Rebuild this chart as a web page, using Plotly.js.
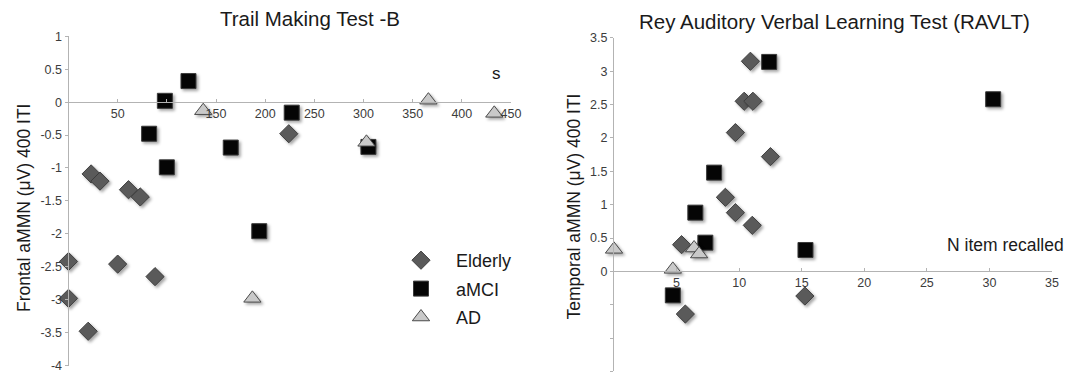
<!DOCTYPE html>
<html><head><meta charset="utf-8">
<script src="https://cdn.plot.ly/plotly-3.0.1.min.js"></script>
<style>
html,body{margin:0;padding:0;background:#fff;}
#chart{width:1075px;height:374px;}
.scatterlayer .trace .points path{filter:drop-shadow(2px 2px 1.5px rgba(0,0,0,0.35));}
</style></head>
<body><div id="chart"></div>
<script>
// ---------- data ----------
const groups = ['Elderly', 'aMCI', 'AD'];

// Trail Making Test -B (x: seconds, y: frontal aMMN µV)
const tmtElderlyX = [23, 32, 61, 73, 0, 50, 88, 0, 20, 224];
const tmtElderlyY = [-1.09, -1.20, -1.33, -1.44, -2.42, -2.46, -2.65, -2.98, -3.48, -0.48];
const tmtAmciX = [122, 98, 82, 165, 100, 227, 305, 194];
const tmtAmciY = [0.32, 0.02, -0.48, -0.69, -0.99, -0.16, -0.68, -1.96];
const tmtAdX = [137, 366, 433, 303, 187];
const tmtAdY = [-0.13, 0.03, -0.17, -0.61, -2.98];

// RAVLT (x: N items recalled, y: temporal aMMN µV)
const ravElderlyX = [10.9, 10.4, 11.1, 9.7, 12.5, 8.9, 9.7, 11.05, 5.4, 5.7, 15.25];
const ravElderlyY = [3.15, 2.55, 2.55, 2.08, 1.72, 1.11, 0.88, 0.69, 0.40, -0.64, -0.37];
const ravAmciX = [12.4, 30.3, 8.0, 6.5, 7.3, 15.3, 4.7];
const ravAmciY = [3.14, 2.58, 1.48, 0.88, 0.43, 0.32, -0.36];
const ravAdX = [0, 4.7, 6.4, 6.8];
const ravAdY = [0.33, 0.03, 0.35, 0.26];

// ticks
const tmtXTicks = [50, 100, 150, 200, 250, 300, 350, 400, 450];
const tmtXTickText = ['50', '', '150', '200', '250', '300', '350', '400', '450'];
const tmtYTicks = [-4, -3.5, -3, -2.5, -2, -1.5, -1, -0.5, 0, 0.5, 1];
const tmtYTickText = ['-4', '-3.5', '-3', '-2.5', '-2', '-1.5', '-1', '-0.5', '0', '0.5', '1'];
const ravXTicks = [5, 10, 15, 20, 25, 30, 35];
const ravXTickText = ['5', '10', '15', '20', '25', '30', '35'];
const ravYTicks = [-1.5, -1, -0.5, 0, 0.5, 1, 1.5, 2, 2.5, 3, 3.5];
const ravYTickText = ['', '', '', '0', '0.5', '1', '1.5', '2', '2.5', '3', '3.5'];

// ---------- style ----------
const W = 1075, H = 374;
const FONT = 'Liberation Sans, Arial, sans-serif';
const symbols = ['diamond', 'square', 'triangle-up'];
const sizes = [14, 15, 15];
const fills = ['#5a5a5a', '#050505', '#c9c9c9'];
const edges = ['#3e3e3e', '#3a3a3a', '#4a4a4a'];
const axisColor = '#b3b3b3';
const tickFont = {family: FONT, size: 12.5, color: '#3c3c3c'};

const tmtXRange = [0, 450], tmtYRange = [-4, 1];
const ravXRange = [0, 35], ravYRange = [-1.5, 3.5];
const xDomL = [68.5 / W, 511 / W], yDomL = [1 - 365.5 / H, 1 - 36.3 / H];
const xDomR = [614 / W, 1052 / W], yDomR = [1 - 371.4 / H, 1 - 37.9 / H];
function zeroPos(dom, rng) { return dom[0] + (0 - rng[0]) / (rng[1] - rng[0]) * (dom[1] - dom[0]); }

function tr(i, x, y, xa, ya, show) {
  return {
    type: 'scatter', mode: 'markers', name: groups[i], x: x, y: y,
    xaxis: xa, yaxis: ya, showlegend: show, legendgroup: groups[i],
    cliponaxis: false, hoverinfo: 'x+y',
    marker: {symbol: symbols[i], size: sizes[i], color: fills[i], line: {color: edges[i], width: 1}}
  };
}

const data = [
  tr(0, tmtElderlyX, tmtElderlyY, 'x', 'y', true),
  tr(1, tmtAmciX, tmtAmciY, 'x', 'y', true),
  tr(2, tmtAdX, tmtAdY, 'x', 'y', true),
  tr(0, ravElderlyX, ravElderlyY, 'x2', 'y2', false),
  tr(1, ravAmciX, ravAmciY, 'x2', 'y2', false),
  tr(2, ravAdX, ravAdY, 'x2', 'y2', false)
];

function xAxis(dom, rng, pos, vals, txt) {
  return {domain: dom, range: rng, anchor: 'free', position: pos, showline: true, linecolor: axisColor, linewidth: 1,
    ticks: 'inside', ticklen: 3, tickcolor: axisColor, tickvals: vals, ticktext: txt, ticklabeloverflow: 'allow',
    showgrid: false, zeroline: false, tickfont: tickFont, fixedrange: true};
}
function yAxis(dom, rng, anchor, vals, txt) {
  return {domain: dom, range: rng, anchor: anchor, showline: true, linecolor: axisColor, linewidth: 1,
    ticks: 'outside', ticklen: 3, tickcolor: axisColor, tickvals: vals, ticktext: txt, ticklabeloverflow: 'allow',
    showgrid: false, zeroline: false, tickfont: tickFont, fixedrange: true};
}

const txtColor = '#1a1a1a';
function ann(text, xpx, ypx, size, angle) {
  return {text: text, xref: 'paper', yref: 'paper', x: xpx / W, y: 1 - ypx / H,
    xanchor: 'center', yanchor: 'middle', showarrow: false, textangle: angle || 0,
    font: {family: FONT, size: size, color: txtColor}};
}

const layout = {
  width: W, height: H,
  margin: {l: 0, r: 0, t: 0, b: 0},
  paper_bgcolor: '#fff', plot_bgcolor: 'rgba(0,0,0,0)',
  xaxis: xAxis(xDomL, tmtXRange, zeroPos(yDomL, tmtYRange), tmtXTicks, tmtXTickText),
  yaxis: yAxis(yDomL, tmtYRange, 'x', tmtYTicks, tmtYTickText),
  xaxis2: xAxis(xDomR, ravXRange, zeroPos(yDomR, ravYRange), ravXTicks, ravXTickText),
  yaxis2: yAxis(yDomR, ravYRange, 'x2', ravYTicks, ravYTickText),
  showlegend: true,
  legend: {x: 386 / W, y: 1 - 242 / H, xanchor: 'left', yanchor: 'top', bgcolor: 'rgba(0,0,0,0)',
    borderwidth: 0, itemwidth: 60, tracegroupgap: 2, font: {family: FONT, size: 18, color: txtColor}},
  annotations: [
    ann('Trail Making Test -B', 310, 19, 20.5),
    ann('Rey Auditory Verbal Learning Test (RAVLT)', 834, 21, 20.5),
    ann('Frontal aMMN (μV) 400 ITI', 24, 208, 17.5, -90),
    ann('Temporal aMMN (μV) 400 ITI', 573, 206.5, 17.5, -90),
    ann('s', 496, 73, 17),
    ann('N item recalled', 1005, 245, 17.5)
  ]
};

Plotly.newPlot('chart', data, layout, {displayModeBar: false, staticPlot: true});
</script>
</body></html>
